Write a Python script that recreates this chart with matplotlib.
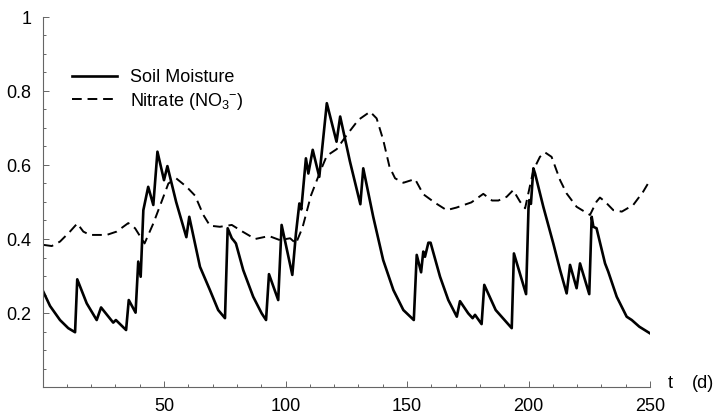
import numpy as np
import matplotlib
matplotlib.use("Agg")
import matplotlib.pyplot as plt
from matplotlib.ticker import MultipleLocator

plt.rcParams['font.family'] = ['Liberation Sans', 'DejaVu Sans']
plt.rcParams['mathtext.fontset'] = 'custom'
plt.rcParams['mathtext.rm'] = 'Liberation Sans'

# soil moisture (solid)
t_soil = [0.3, 3.1, 7.2, 10.6, 13.4, 14.3, 18.2, 22.3, 24.1, 29.1, 30.2, 34.4,
          35.5, 38.3, 39.4, 40.4, 41.5, 43.5, 45.6, 47.3, 50.0, 51.4, 55.0, 59.2,
          60.4, 64.8, 68.9, 72.3, 75.1, 76.2, 77.9, 78.8, 79.6, 82.6, 86.7, 90.2,
          92.0, 93.2, 97.0, 98.4, 102.8, 104.3, 105.7, 106.5, 108.4, 109.4, 111.2,
          113.9, 117.0, 121.0, 122.5, 126.5, 130.8, 132.0, 136.1, 140.2, 144.4,
          148.5, 152.8, 154.0, 155.8, 156.7, 157.4, 158.8, 159.7, 163.6, 167.0,
          170.5, 171.8, 175.2, 177.0, 178.0, 180.7, 181.8, 186.5, 193.1, 194.0,
          199.0, 200.0, 200.3, 201.0, 202.0, 202.7, 206.1, 210.2, 213.0, 215.7,
          217.1, 219.8, 221.2, 225.0, 226.0, 226.7, 228.0, 231.5, 232.8, 236.3,
          240.4, 242.5, 245.6, 250.0]
soil = [0.258, 0.219, 0.181, 0.159, 0.148, 0.291, 0.226, 0.181, 0.215, 0.174, 0.181, 0.154,
        0.235, 0.201, 0.339, 0.298, 0.478, 0.541, 0.492, 0.636, 0.559, 0.597, 0.50, 0.405,
        0.460, 0.325, 0.262, 0.208, 0.186, 0.429, 0.402, 0.395, 0.388, 0.316, 0.244, 0.199,
        0.181, 0.305, 0.235, 0.438, 0.303, 0.415, 0.496, 0.480, 0.618, 0.577, 0.641,
        0.568, 0.767, 0.663, 0.731, 0.610, 0.494, 0.591, 0.460, 0.343, 0.262,
        0.208, 0.181, 0.357, 0.310, 0.366, 0.352, 0.390, 0.390, 0.298, 0.235,
        0.190, 0.232, 0.199, 0.186, 0.195, 0.170, 0.276, 0.208, 0.159, 0.361,
        0.251, 0.483, 0.505, 0.495, 0.591, 0.577, 0.487, 0.388, 0.316, 0.253,
        0.330, 0.267, 0.334, 0.251, 0.460, 0.433, 0.429, 0.334, 0.312, 0.244,
        0.190, 0.181, 0.163, 0.145]

# nitrate (dashed)
t_no3 = [0.5, 3.8, 7.2, 11.3, 14.3, 16.8, 19.5, 26.4, 30.5, 35.3, 38.1, 42.0,
         45.6, 49.0, 51.8, 55.0, 59.3, 62.8, 66.2, 68.9, 73.0, 77.9, 82.3, 87.5,
         93.2, 97.7, 101.9, 104.3, 107.0, 110.5, 114.5, 117.0, 121.1, 125.2, 130.0,
         134.8, 137.5, 140.2, 142.8, 145.1, 148.5, 153.3, 156.7, 161.5, 166.3, 170.4,
         176.5, 181.4, 185.0, 187.6, 191.0, 193.7, 196.5, 198.6, 202.0, 204.7, 206.8,
         209.5, 213.0, 215.7, 219.8, 225.3, 228.0, 229.4, 231.5, 234.9, 238.4, 243.1,
         247.2, 250.0]
no3 = [0.384, 0.381, 0.393, 0.420, 0.442, 0.420, 0.411, 0.411, 0.420, 0.443, 0.429, 0.388,
       0.442, 0.501, 0.550, 0.564, 0.541, 0.517, 0.465, 0.436, 0.433, 0.438, 0.420, 0.400,
       0.408, 0.397, 0.402, 0.388, 0.431, 0.518, 0.586, 0.625, 0.643, 0.681, 0.722,
       0.744, 0.726, 0.668, 0.595, 0.564, 0.552, 0.562, 0.521, 0.498, 0.478, 0.485,
       0.499, 0.522, 0.504, 0.504, 0.514, 0.532, 0.501, 0.483, 0.586, 0.622, 0.634,
       0.622, 0.559, 0.523, 0.487, 0.465, 0.501, 0.512, 0.501, 0.478, 0.474, 0.492,
       0.528, 0.559]

W, H = 722, 415
fig = plt.figure(figsize=(W / 100, H / 100), dpi=100)
ax = fig.add_axes([42.5 / W, 1 - 387 / H, (650 - 42.5) / W, (387 - 17) / H])

ax.plot(t_soil, soil, color='black', lw=1.9, label='Soil Moisture')
ax.plot(t_no3, no3, color='black', lw=1.4, dashes=(5, 3), label=r'Nitrate (NO$_3$$^{-}$)')

ax.set_xlim(0, 250)
ax.set_ylim(0, 1)
ax.set_xticks([50, 100, 150, 200, 250])
ax.set_yticks([0.2, 0.4, 0.6, 0.8, 1.0])
ax.set_yticklabels(['0.2', '0.4', '0.6', '0.8', '1'])
ax.xaxis.set_minor_locator(MultipleLocator(10))
ax.yaxis.set_minor_locator(MultipleLocator(0.05))
ax.tick_params(which='both', direction='in', labelsize=13, color='#666666', width=0.7)
ax.tick_params(which='major', length=4, pad=8)
ax.tick_params(which='minor', length=2)

for s in ['top', 'right']:
    ax.spines[s].set_visible(False)
for s in ['left', 'bottom']:
    ax.spines[s].set_color('#666666')
    ax.spines[s].set_linewidth(0.8)

fig.text(668 / W, 1 - 383 / H, 't', fontsize=13, va='center', ha='left')
fig.text(692 / W, 1 - 383 / H, '(d)', fontsize=13, va='center', ha='left')

ax.legend(loc='upper left', bbox_to_anchor=(72 / W, 1 - 69 / H), bbox_transform=fig.transFigure,
          frameon=False, fontsize=13, handlelength=2.5, handletextpad=0.7,
          labelspacing=0.25, borderpad=0, borderaxespad=0)

fig.savefig('out.png', dpi=100)
